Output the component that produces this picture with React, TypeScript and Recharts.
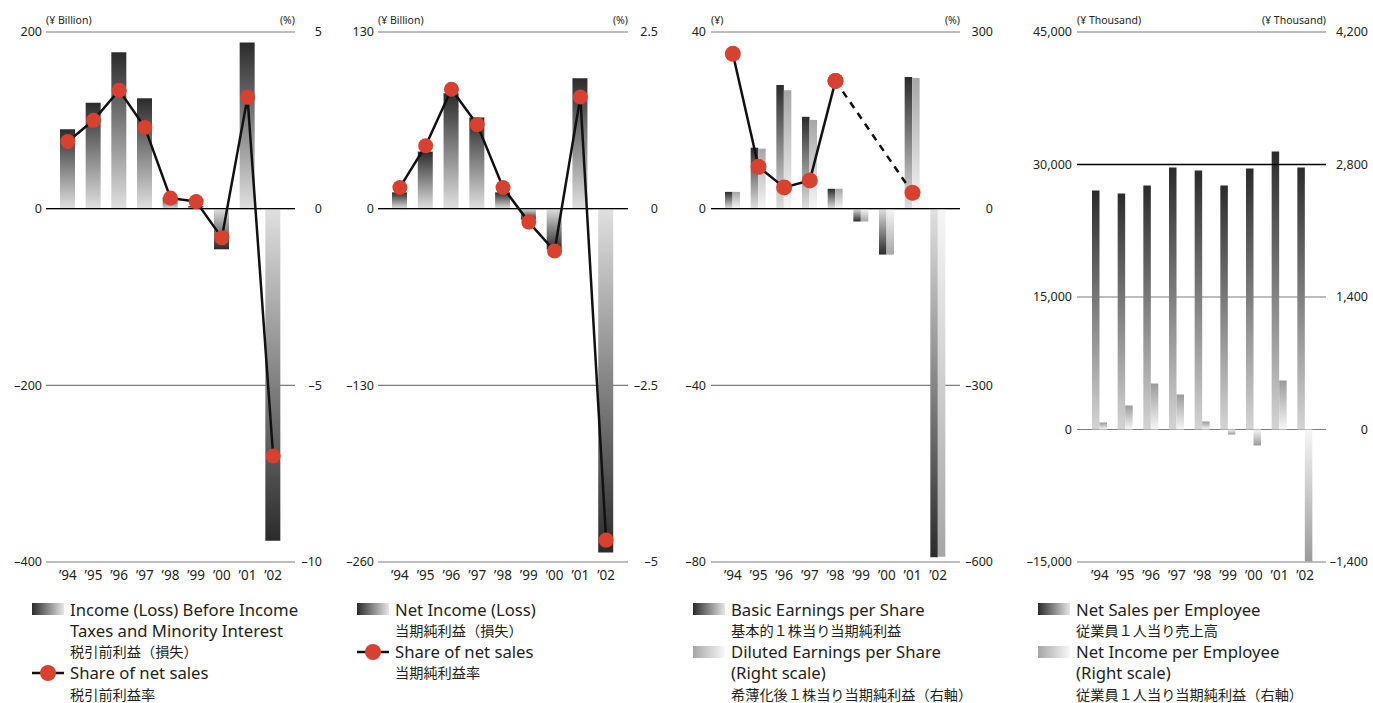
import React from "react";
import {
  ComposedChart, Bar, Line, XAxis, YAxis, CartesianGrid, ReferenceLine, Cell,
} from "recharts";

const FONT = '"Noto Sans", "Noto Sans CJK JP", sans-serif';
const INK = "#231f20";
const RED = "#d8412f";
const GRID = "#7d7d7d";

const YEARS = ["’94", "’95", "’96", "’97", "’98", "’99", "’00", "’01", "’02"];

// Income (loss) before income taxes, ¥ billion / share of net sales, %
const PRETAX_INCOME = [90, 120, 177, 125, 13, 3, -46, 188, -376];
const PRETAX_SHARE = [1.9, 2.5, 3.35, 2.3, 0.3, 0.2, -0.82, 3.15, -7.0];

// Net income (loss), ¥ billion / share of net sales, %
const NET_INCOME = [12, 42, 85, 67, 12, -8, -30, 96, -253];
const NET_SHARE = [0.3, 0.89, 1.69, 1.19, 0.3, -0.19, -0.6, 1.58, -4.69];

// Earnings per share, ¥ / ratio, %
const EPS_BASIC = [3.8, 13.8, 28.0, 20.8, 4.5, -2.9, -10.4, 29.8, -78.9];
const EPS_DILUTED = [3.8, 13.6, 26.8, 20.1, 4.5, -2.9, -10.4, 29.6, -78.8];
const EPS_RATIO = [263, 71, 36, 48, 217, null, null, null, null];
const EPS_RATIO_GAP = [null, null, null, null, 217, null, null, 27, null];

// Per employee, ¥ thousand
const SALES_PER_EMP = [27060, 26720, 27620, 29660, 29320, 27620, 29550, 31470, 29660];
const INCOME_PER_EMP = [74, 254, 486, 370, 85, -53, -169, 518, -1395];

const rows1 = YEARS.map((year, i) => ({ year, v: PRETAX_INCOME[i], pct: PRETAX_SHARE[i] }));
const rows2 = YEARS.map((year, i) => ({ year, v: NET_INCOME[i], pct: NET_SHARE[i] }));
const rows3 = YEARS.map((year, i) => ({
  year, basic: EPS_BASIC[i], diluted: EPS_DILUTED[i], ratio: EPS_RATIO[i], ratioGap: EPS_RATIO_GAP[i],
}));
const rows4 = YEARS.map((year, i) => ({ year, sales: SALES_PER_EMP[i], income: INCOME_PER_EMP[i] }));

const fmt = (v: number) => (v < 0 ? "–" : "") + Math.abs(v).toLocaleString("en-US");

const leftTick = (p: any) => (
  <text x={p.x} y={p.y} dy="0.35em" textAnchor="end" fontSize={12.5} fill={INK} fontFamily={FONT}>
    {fmt(p.payload.value)}
  </text>
);
const rightTick = (pad: number) => (p: any) => (
  <text x={p.x + pad} y={p.y} dy="0.35em" textAnchor="end" fontSize={12.5} fill={INK} fontFamily={FONT}>
    {fmt(p.payload.value)}
  </text>
);
const yearTick = (p: any) => (
  <text x={p.x} y={p.y} dy="0.71em" textAnchor="middle" fontSize={13.5} fill={INK} fontFamily={FONT}>
    {p.payload.value}
  </text>
);

// vertical gradients: dark at the far end of the bar, light near zero
const grads = (id: string, dark = "#2b2b2b", zero = "#e0e0e0", light = "#a6a6a6", lightZero = "#f6f6f6") => (
  <defs>
    <linearGradient id={`${id}-dp`} x1="0" y1="0" x2="0" y2="1">
      <stop offset="0" stopColor={dark} /><stop offset="1" stopColor={zero} />
    </linearGradient>
    <linearGradient id={`${id}-dn`} x1="0" y1="0" x2="0" y2="1">
      <stop offset="0" stopColor={zero} /><stop offset="1" stopColor={dark} />
    </linearGradient>
    <linearGradient id={`${id}-lp`} x1="0" y1="0" x2="0" y2="1">
      <stop offset="0" stopColor={light} /><stop offset="1" stopColor={lightZero} />
    </linearGradient>
    <linearGradient id={`${id}-ln`} x1="0" y1="0" x2="0" y2="1">
      <stop offset="0" stopColor={lightZero} /><stop offset="1" stopColor={light} />
    </linearGradient>
  </defs>
);

const dot = { r: 7.5, fill: RED, stroke: RED, strokeWidth: 0 };

function SharePanel({ id, left, width, axisL, axisR, padR, data, domL, ticksL, domR, ticksR }: any) {
  return (
    <div style={{ position: "absolute", left, top: 0 }}>
      <ComposedChart width={width} height={600} data={data} margin={{ top: 32, right: 0, bottom: 0, left: 0 }} barSize={15}>
        {grads(id)}
        <CartesianGrid vertical={false} stroke={GRID} strokeWidth={1.2} />
        <XAxis dataKey="year" height={38} axisLine={false} tickLine={false} tickSize={0} tickMargin={8}
               padding={{ left: 9, right: 9 }} tick={yearTick} interval={0} />
        <YAxis width={axisL} domain={domL} ticks={ticksL} axisLine={false} tickLine={false}
               tickSize={0} tickMargin={4} tick={leftTick} interval={0} />
        <YAxis yAxisId="r" orientation="right" width={axisR} domain={domR} ticks={ticksR}
               axisLine={false} tickLine={false} tickSize={0} tickMargin={0} tick={rightTick(padR)} interval={0} />
        <ReferenceLine y={0} stroke="#000" strokeWidth={1.3} />
        <Bar dataKey="v" isAnimationActive={false}>
          {data.map((r: any, i: number) => (
            <Cell key={i} fill={r.v >= 0 ? `url(#${id}-dp)` : `url(#${id}-dn)`} />
          ))}
        </Bar>
        <Line yAxisId="r" dataKey="pct" type="linear" stroke="#111" strokeWidth={2.5}
              dot={dot} activeDot={false} isAnimationActive={false} />
      </ComposedChart>
    </div>
  );
}

function EpsPanel() {
  const id = "p3";
  return (
    <div style={{ position: "absolute", left: 675, top: 0 }}>
      <ComposedChart width={340} height={600} data={rows3} margin={{ top: 32, right: 0, bottom: 0, left: 0 }}
                     barSize={7.5} barGap={0}>
        {grads(id)}
        <CartesianGrid vertical={false} stroke={GRID} strokeWidth={1.2} />
        <XAxis dataKey="year" height={38} axisLine={false} tickLine={false} tickSize={0} tickMargin={8}
               padding={{ left: 9, right: 9 }} tick={yearTick} interval={0} />
        <YAxis width={36} domain={[-80, 40]} ticks={[40, 0, -40, -80]} axisLine={false} tickLine={false}
               tickSize={0} tickMargin={5} tick={leftTick} interval={0} />
        <YAxis yAxisId="r" orientation="right" width={55} domain={[-600, 300]} ticks={[300, 0, -300, -600]}
               axisLine={false} tickLine={false} tickSize={0} tickMargin={0} tick={rightTick(33)} interval={0} />
        <ReferenceLine y={0} stroke="#000" strokeWidth={1.3} />
        <Bar dataKey="basic" isAnimationActive={false}>
          {rows3.map((r, i) => <Cell key={i} fill={r.basic >= 0 ? `url(#${id}-dp)` : `url(#${id}-dn)`} />)}
        </Bar>
        <Bar dataKey="diluted" isAnimationActive={false}>
          {rows3.map((r, i) => <Cell key={i} fill={r.diluted >= 0 ? `url(#${id}-lp)` : `url(#${id}-ln)`} />)}
        </Bar>
        <Line yAxisId="r" dataKey="ratioGap" type="linear" stroke="#111" strokeWidth={2.5} strokeDasharray="7 6"
              connectNulls dot={{ ...dot, r: 8 }} activeDot={false} isAnimationActive={false} />
        <Line yAxisId="r" dataKey="ratio" type="linear" stroke="#111" strokeWidth={2.5}
              dot={{ ...dot, r: 8 }} activeDot={false} isAnimationActive={false} />
      </ComposedChart>
    </div>
  );
}

function EmployeePanel() {
  const id = "p4";
  return (
    <div style={{ position: "absolute", left: 1015, top: 0 }}>
      <ComposedChart width={358} height={600} data={rows4} margin={{ top: 32, right: 0, bottom: 0, left: 0 }}
                     barSize={7.5} barGap={0}>
        {grads(id, "#2b2b2b", "#d4d4d4", "#9a9a9a", "#f6f6f6")}
        <CartesianGrid vertical={false} stroke={GRID} strokeWidth={1.2} />
        <XAxis dataKey="year" height={38} axisLine={false} tickLine={false} tickSize={0} tickMargin={8}
               padding={{ left: 10, right: 8 }} tick={yearTick} interval={0} />
        <YAxis width={62} domain={[-15000, 45000]} ticks={[45000, 30000, 15000, 0, -15000]} axisLine={false}
               tickLine={false} tickSize={0} tickMargin={5} tick={leftTick} interval={0} />
        <YAxis yAxisId="r" orientation="right" width={47} domain={[-1400, 4200]} ticks={[4200, 2800, 1400, 0, -1400]}
               axisLine={false} tickLine={false} tickSize={0} tickMargin={0} tick={rightTick(42)} interval={0} />
        <ReferenceLine y={30000} stroke="#000" strokeWidth={1.3} />
        <Bar dataKey="sales" isAnimationActive={false}>
          {rows4.map((r, i) => <Cell key={i} fill={r.sales >= 0 ? `url(#${id}-dp)` : `url(#${id}-dn)`} />)}
        </Bar>
        <Bar yAxisId="r" dataKey="income" isAnimationActive={false}>
          {rows4.map((r, i) => <Cell key={i} fill={r.income >= 0 ? `url(#${id}-lp)` : `url(#${id}-ln)`} />)}
        </Bar>
      </ComposedChart>
    </div>
  );
}

const DARK_SWATCH = "linear-gradient(to right, #2b2b2b, #e6e6e6)";
const LIGHT_SWATCH = "linear-gradient(to right, #a6a6a6, #f8f8f8)";

type Row = { text: string; jp?: boolean; swatch?: "dark" | "light" | "marker" };

function LegendBlock({ x, rows }: { x: number; rows: Row[] }) {
  return (
    <>
      {rows.map((r, i) => {
        const cy = 609.5 + i * 21.3;
        return (
          <React.Fragment key={i}>
            {r.swatch === "dark" || r.swatch === "light" ? (
              <div style={{
                position: "absolute", left: x, top: cy - 6.5, width: 32, height: 12,
                background: r.swatch === "dark" ? DARK_SWATCH : LIGHT_SWATCH,
              }} />
            ) : null}
            {r.swatch === "marker" ? (
              <svg style={{ position: "absolute", left: x, top: cy - 10 }} width={32} height={20}>
                <line x1={0} y1={10} x2={32} y2={10} stroke="#111" strokeWidth={2.5} />
                <circle cx={16} cy={10} r={8} fill={RED} />
              </svg>
            ) : null}
            <div style={{
              position: "absolute", left: x + 38, top: cy - 11, height: 22, lineHeight: "22px",
              fontSize: r.jp ? 14.2 : 16.7, color: INK, whiteSpace: "nowrap",
            }}>{r.text}</div>
          </React.Fragment>
        );
      })}
    </>
  );
}

function Unit({ x, text, right }: { x: number; text: string; right?: boolean }) {
  return (
    <div style={{
      position: "absolute", top: 13, height: 14, lineHeight: "14px", fontSize: 10.5, color: INK,
      whiteSpace: "nowrap", ...(right ? { right: 1373 - x } : { left: x }),
    }}>{text}</div>
  );
}

export default function App() {
  return (
    <div style={{
      position: "absolute", left: 0, top: 0, width: 1373, height: 703, overflow: "hidden",
      background: "#fff", fontFamily: FONT,
    }}>
      <SharePanel id="p1" left={0} width={340} axisL={46} axisR={45} padR={27} data={rows1}
                  domL={[-400, 200]} ticksL={[200, 0, -200, -400]} domR={[-10, 5]} ticksR={[5, 0, -5, -10]} />
      <SharePanel id="p2" left={340} width={335} axisL={38} axisR={47} padR={30} data={rows2}
                  domL={[-260, 130]} ticksL={[130, 0, -130, -260]} domR={[-5, 2.5]} ticksR={[2.5, 0, -2.5, -5]} />
      <EpsPanel />
      <EmployeePanel />

      <Unit x={46} text="(¥ Billion)" />
      <Unit x={295} text="(%)" right />
      <Unit x={378} text="(¥ Billion)" />
      <Unit x={628} text="(%)" right />
      <Unit x={711} text="(¥)" />
      <Unit x={960} text="(%)" right />
      <Unit x={1077} text="(¥ Thousand)" />
      <Unit x={1326} text="(¥ Thousand)" right />

      <LegendBlock x={32} rows={[
        { text: "Income (Loss) Before Income", swatch: "dark" },
        { text: "Taxes and Minority Interest" },
        { text: "税引前利益（損失）", jp: true },
        { text: "Share of net sales", swatch: "marker" },
        { text: "税引前利益率", jp: true },
      ]} />
      <LegendBlock x={357} rows={[
        { text: "Net Income (Loss)", swatch: "dark" },
        { text: "当期純利益（損失）", jp: true },
        { text: "Share of net sales", swatch: "marker" },
        { text: "当期純利益率", jp: true },
      ]} />
      <LegendBlock x={693} rows={[
        { text: "Basic Earnings per Share", swatch: "dark" },
        { text: "基本的１株当り当期純利益", jp: true },
        { text: "Diluted Earnings per Share", swatch: "light" },
        { text: "(Right scale)" },
        { text: "希薄化後１株当り当期純利益（右軸）", jp: true },
      ]} />
      <LegendBlock x={1038} rows={[
        { text: "Net Sales per Employee", swatch: "dark" },
        { text: "従業員１人当り売上高", jp: true },
        { text: "Net Income per Employee", swatch: "light" },
        { text: "(Right scale)" },
        { text: "従業員１人当り当期純利益（右軸）", jp: true },
      ]} />
    </div>
  );
}
